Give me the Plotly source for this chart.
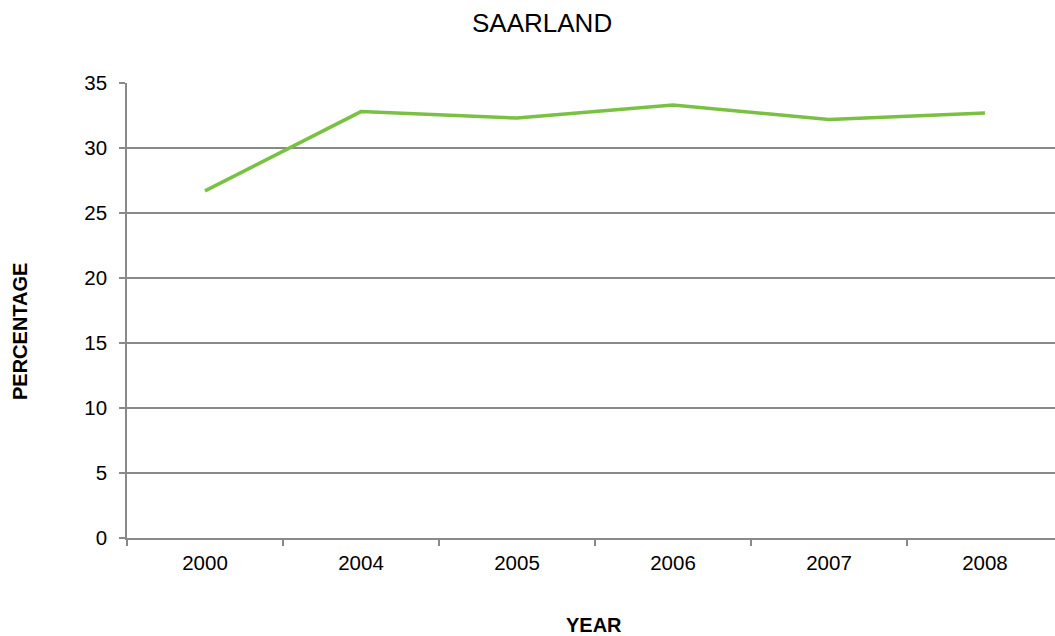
import plotly.graph_objects as go

# Share of the population, Saarland
years = ["2000", "2004", "2005", "2006", "2007", "2008"]
percentage = [26.7, 32.8, 32.3, 33.3, 32.2, 32.7]
y_ticks = [0, 5, 10, 15, 20, 25, 30, 35]

FONT = "Liberation Sans, Arial, sans-serif"
GRID = "#898989"
LINE_GREEN = "#7AC143"

fig = go.Figure(
    go.Scatter(
        x=years,
        y=percentage,
        mode="lines",
        line=dict(color=LINE_GREEN, width=3.5),
        hoverinfo="x+y",
    )
)

fig.update_layout(
    width=1055,
    height=636,
    margin=dict(l=127, r=0, t=83, b=98),
    paper_bgcolor="white",
    plot_bgcolor="white",
    showlegend=False,
    font=dict(family=FONT, size=20, color="black"),
    xaxis=dict(
        type="category",
        range=[-0.5, 5.449],
        tickson="boundaries",
        ticks="outside",
        ticklen=6,
        tickwidth=1.5,
        tickcolor=GRID,
        showline=True,
        linecolor=GRID,
        linewidth=1.5,
        showgrid=False,
        zeroline=False,
        ticklabelstandoff=6,
        tickfont=dict(family=FONT, size=20.5, color="black"),
    ),
    yaxis=dict(
        range=[0, 35],
        tickvals=y_ticks,
        ticks="outside",
        ticklen=6,
        tickwidth=1.5,
        tickcolor=GRID,
        showline=True,
        linecolor=GRID,
        linewidth=1.5,
        showgrid=True,
        gridcolor=GRID,
        gridwidth=1.5,
        zeroline=False,
        ticklabelstandoff=8,
        tickfont=dict(family=FONT, size=20.5, color="black"),
    ),
    annotations=[
        dict(
            text="SAARLAND",
            xref="paper", yref="paper",
            x=(542 - 127) / 928, y=1 + (83 - 23) / 455,
            xanchor="center", yanchor="middle",
            showarrow=False,
            font=dict(family=FONT, size=26, color="black"),
        ),
        dict(
            text="<b>YEAR</b>",
            xref="paper", yref="paper",
            x=(594 - 127) / 928, y=-(625 - 538) / 455,
            xanchor="center", yanchor="middle",
            showarrow=False,
            font=dict(family=FONT, size=20, color="black"),
        ),
        dict(
            text="<b>PERCENTAGE</b>",
            xref="paper", yref="paper",
            x=-(127 - 20) / 928, y=(538 - 332) / 455,
            xanchor="center", yanchor="middle",
            textangle=-90,
            showarrow=False,
            font=dict(family=FONT, size=20, color="black"),
        ),
    ],
)

fig.write_html("out.html")
